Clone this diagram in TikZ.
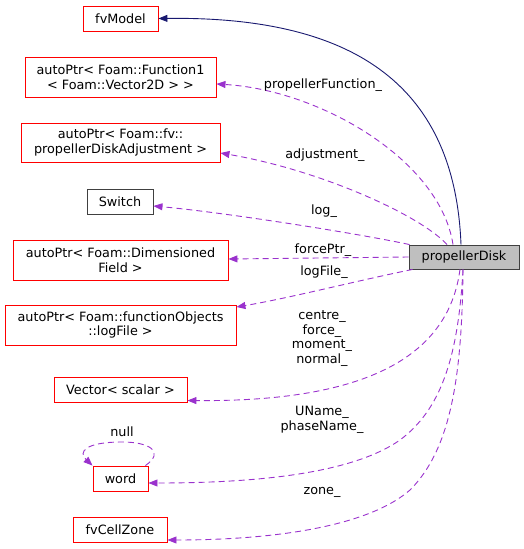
\documentclass[tikz,border=0pt]{standalone}
\usepackage{fontspec}
\setmainfont{DejaVu Sans}
\usetikzlibrary{arrows.meta,calc}
\definecolor{edgepurple}{HTML}{9A32CD}
\definecolor{inhnavy}{HTML}{191970}
\definecolor{boxred}{HTML}{FF0000}
\definecolor{boxgray}{HTML}{BFBFBF}
\definecolor{boxdark}{HTML}{404040}
\tikzset{
  txt/.style={font=\fontsize{12.8}{14.6}\selectfont},
  cls/.style={txt, draw=boxred, line width=0.9pt, rectangle, inner sep=0pt, align=center},
  plainbox/.style={txt, draw=boxdark, line width=0.9pt, rectangle, inner sep=0pt, align=center},
  mainbox/.style={txt, draw=boxdark, fill=boxgray, line width=0.9pt, rectangle, inner sep=0pt, align=center},
  member/.style={draw=edgepurple, line width=0.9pt, dash pattern=on 6pt off 4pt,
    -{Triangle[length=9pt,width=7pt,fill=edgepurple]}},
  inherit/.style={draw=inhnavy, line width=0.9pt,
    -{Triangle[length=9pt,width=7pt,fill=inhnavy]}},
  lbl/.style={txt, align=center, inner sep=0pt}
}
\begin{document}
\begin{tikzpicture}[x=1pt,y=-1pt]
\useasboundingbox (0,0) rectangle (524,549);
% nodes
\node[cls, minimum width=75pt, minimum height=25pt] (fvm) at (120.5,18.5) {fvModel};
\node[cls, minimum width=191pt, minimum height=40pt] (fn1) at (120.5,77) {autoPtr< Foam::Function1\\< Foam::Vector2D > >};
\node[cls, minimum width=199pt, minimum height=39pt] (adj) at (120.5,142.5) {autoPtr< Foam::fv::\\propellerDiskAdjustment >};
\node[plainbox, minimum width=66pt, minimum height=25pt] (sw) at (120,201.5) {Switch};
\node[cls, minimum width=215pt, minimum height=40pt] (dimf) at (120.5,260) {autoPtr< Foam::Dimensioned\\Field >};
\node[cls, minimum width=231pt, minimum height=40pt] (logf) at (120.5,325) {autoPtr< Foam::functionObjects\\::logFile >};
\node[cls, minimum width=133pt, minimum height=25pt] (vec) at (120.5,389.5) {Vector< scalar >};
\node[cls, minimum width=55pt, minimum height=25pt] (word) at (120.5,478.5) {word};
\node[cls, minimum width=94pt, minimum height=25pt] (zone) at (120,529.5) {fvCellZone};
\node[mainbox, minimum width=110pt, minimum height=24pt] (pd) at (464,257) {propellerDisk};
% edges
\draw[inherit] ([xshift=-3pt]pd.north) .. controls (455,90) and (360,16) .. (fvm.east);
\draw[member] ([xshift=-11pt]pd.north) .. controls (440,160) and (320,90) .. ([yshift=-7pt]fn1.east);
\draw[member] ([xshift=-17pt]pd.north) .. controls (420,215) and (320,170) .. ([yshift=-10.5pt]adj.east);
\draw[member] ([xshift=1pt]pd.north west) .. controls (350,232) and (220,212) .. ([yshift=-4.5pt]sw.east);
\draw[member] (pd.west) -- ([yshift=1pt]dimf.east);
\draw[member] ([xshift=4pt]pd.south west) .. controls (360,280) and (290,298) .. ([yshift=18pt]logf.east);
\draw[member] ([xshift=-4pt]pd.south) .. controls (448,360) and (360,402) .. ([yshift=-11pt]vec.east);
\draw[member] ([xshift=-1pt]pd.south) .. controls (458,360) and (440,410) .. (400,440)
   .. controls (350,475) and (250,483) .. ([yshift=-4.5pt]word.east);
\draw[member] ([xshift=-1pt]pd.south) .. controls (462,380) and (450,450) .. (410,490)
   .. controls (370,525) and (280,540) .. ([yshift=-10.5pt]zone.east);
\draw[member] ([xshift=-3pt]word.north east) .. controls (165,452) and (150,442) .. (122,442)
   .. controls (85,442) and (78,452) .. ([xshift=-28pt]word.north);
% labels
\node[lbl] (l1) at (323,85) {propellerFunction\_};
\node[lbl] (l2) at (325,155) {adjustment\_};
\node[lbl] (l3) at (324,211) {log\_};
\node[lbl] (l4) at (323,250) {forcePtr\_};
\node[lbl] (l5) at (324,272) {logFile\_};
\node[lbl] (l6) at (322,338.5) {centre\_\\force\_\\moment\_\\normal\_};
\node[lbl] (l7) at (322,420) {UName\_\\phaseName\_};
\node[lbl] (l8) at (322,492) {zone\_};
\node[lbl] (l9) at (122,432) {null};
\end{tikzpicture}
\end{document}
